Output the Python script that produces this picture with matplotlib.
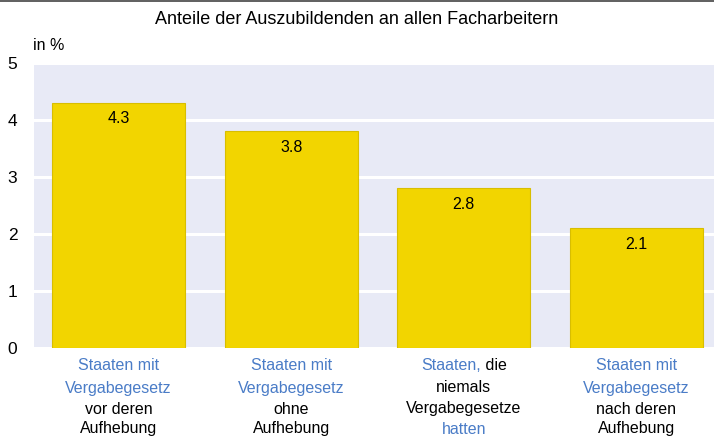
import matplotlib.pyplot as plt
from matplotlib.lines import Line2D

plt.rcParams['font.family'] = ['Liberation Sans', 'DejaVu Sans']

values = [4.3, 3.8, 2.8, 2.1]
value_labels = ['4.3', '3.8', '2.8', '2.1']
# each category label: list of lines, each line a list of (text, colour key)
cat_labels = [
    [[('Staaten mit', 'b')], [('Vergabegesetz', 'b')], [('vor deren', 'k')], [('Aufhebung', 'k')]],
    [[('Staaten mit', 'b')], [('Vergabegesetz', 'b')], [('ohne', 'k')], [('Aufhebung', 'k')]],
    [[('Staaten,', 'b'), (' die', 'k')], [('niemals', 'k')], [('Vergabegesetze', 'k')], [('hatten', 'b')]],
    [[('Staaten mit', 'b')], [('Vergabegesetz', 'b')], [('nach deren', 'k')], [('Aufhebung', 'k')]],
]
yticks = [0, 1, 2, 3, 4, 5]

colours = {'b': '#4a7cc7', 'k': '#000000'}
bar_color = '#f2d500'
bg = '#e8eaf6'

fig = plt.figure(figsize=(7.14, 4.38), dpi=100)
ax = fig.add_axes([34/714, 90/438, 680/714, 285/438])
ax.set_facecolor(bg)

x = list(range(len(values)))
ax.bar(x, values, width=0.77, color=bar_color, edgecolor='#d8be00', linewidth=0.8, zorder=3)
for xi, v, lab in zip(x, values, value_labels):
    ax.annotate(lab, (xi, v), xytext=(0, -11.5), textcoords='offset points',
                ha='center', va='center', fontsize=11.5, zorder=4)

ax.set_xlim(-0.49, 3.45)
ax.set_ylim(0, 5)
ax.set_yticks(yticks)
ax.set_yticklabels([str(t) for t in yticks], fontsize=12.5)
ax.tick_params(axis='y', length=0, pad=12)
ax.set_xticks([])
ax.yaxis.grid(True, color='white', linewidth=2.2, zorder=1)
ax.set_axisbelow(True)
for s in ax.spines.values():
    s.set_visible(False)

fig.text(357/714, 1 - 20/438, 'Anteile der Auszubildenden an allen Facharbeitern',
         ha='center', va='center', fontsize=13)
fig.text(33/714, 1 - 45/438, 'in %', ha='left', va='center', fontsize=11.5)

# category labels below the axis, lines may mix colours
fig.canvas.draw()
r = fig.canvas.get_renderer()
line_y = [366, 388, 409, 429]
for xi, lines in zip(x, cat_labels):
    cx = ax.transData.transform((xi, 0))[0]
    for ly, parts in zip(line_y, lines):
        texts = [fig.text(0, 1 - ly/438, t, color=colours[c], fontsize=11.5,
                          ha='left', va='center') for t, c in parts]
        widths = [t.get_window_extent(r).width for t in texts]
        start = cx - sum(widths) / 2
        for t, w in zip(texts, widths):
            t.set_x(start / 714)
            start += w

fig.add_artist(Line2D([0, 1], [1 - 0.5/438, 1 - 0.5/438], color='#444444', linewidth=1.2))

fig.savefig('out.png', dpi=100)
